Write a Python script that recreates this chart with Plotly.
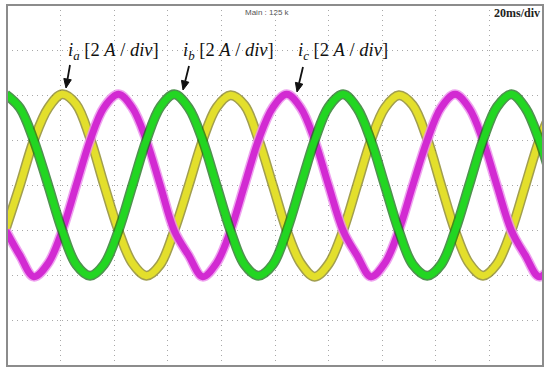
import math
import plotly.graph_objects as go

# Sample times (divisions, 20 ms/div)
T_DIV = [-0.02, 0.24, 0.50, 0.77, 1.03, 1.29, 1.55, 1.81, 2.08, 2.34,
         2.60, 2.86, 3.12, 3.39, 3.65, 3.91, 4.17, 4.43, 4.69, 4.96,
         5.22, 5.48, 5.74, 6.00, 6.27, 6.53, 6.79, 7.05, 7.31, 7.57,
         7.84, 8.10, 8.36, 8.62, 8.88, 9.14, 9.41, 9.67, 9.93, 10.19]

# Phase currents (divisions, 2 A/div)
I_A = [-0.95, 0.0, 1.0, 1.72, 2.02, 1.8, 1.05, 0.02, -1.0, -1.72,
       -2.0, -1.75, -1.0, 0.0, 1.0, 1.73, 2.0, 1.78, 1.03, 0.0,
       -1.0, -1.72, -2.02, -1.74, -1.0, 0.0, 1.0, 1.72, 2.0, 1.78,
       1.03, 0.0, -1.0, -1.72, -2.0, -1.74, -1.0, 0.0, 1.0, 1.73]

I_B = [2.02, 1.72, 1.0, 0.0, -1.0, -1.75, -2.0, -1.75, -1.0, 0.0,
       1.0, 1.74, 2.02, 1.72, 1.0, 0.0, -1.0, -1.75, -2.0, -1.75,
       -1.0, 0.0, 1.0, 1.74, 2.02, 1.72, 1.0, 0.0, -1.0, -1.75,
       -2.0, -1.75, -1.0, 0.0, 1.0, 1.74, 2.02, 1.72, 1.0, 0.0]

I_C = [-1.0, -1.55, -2.02, -1.72, -1.0, 0.0, 1.0, 1.73, 2.02, 1.72,
       1.0, 0.0, -1.0, -1.55, -2.02, -1.72, -1.0, 0.0, 1.0, 1.73,
       2.02, 1.72, 1.0, 0.0, -1.0, -1.55, -2.02, -1.72, -1.0, 0.0,
       1.0, 1.73, 2.02, 1.72, 1.0, 0.0, -1.0, -1.55, -2.02, -1.72]

LABELS = ["<i>i<sub>a</sub></i> [2 <i>A</i> / <i>div</i>]",
          "<i>i<sub>b</sub></i> [2 <i>A</i> / <i>div</i>]",
          "<i>i<sub>c</sub></i> [2 <i>A</i> / <i>div</i>]"]

W, H = 550, 374
L, R, T, B = 7, 543, 5, 366


def px(x):
    return (x - L) / (R - L)


def py(y):
    return (B - y) / (B - T)


fig = go.Figure()

series = [
    (I_A, "#e3df2c", "rgba(130,125,20,0.75)"),
    (I_C, "#d22ad2", "rgba(235,140,235,0.8)"),
    (I_B, "#22d622", "rgba(20,110,20,0.75)"),
]
for ys, col, edge in series:
    fig.add_trace(go.Scatter(x=T_DIV, y=ys, mode="lines",
                             line=dict(color=edge, width=10, shape="spline", smoothing=1.0),
                             hoverinfo="skip", showlegend=False))
    fig.add_trace(go.Scatter(x=T_DIV, y=ys, mode="lines",
                             line=dict(color=col, width=7, shape="spline", smoothing=1.0),
                             hoverinfo="skip", showlegend=False))

grid = dict(showgrid=True, gridcolor="#a8a8a8", gridwidth=1, griddash="1px,4px",
            zeroline=False, showticklabels=False, ticks="", showline=False)
fig.update_xaxes(range=[0, 10], dtick=1, tick0=0, **grid)
fig.update_yaxes(range=[-4, 4], dtick=1, tick0=0, **grid)

fig.add_shape(type="rect", xref="paper", yref="paper", x0=0, x1=1, y0=0, y1=1,
              line=dict(color="#8c8c8c", width=2), layer="above")

# arrows drawn as shapes (tail -> tip)
for (tx, ty, hx, hy) in [(70, 65, 66, 88), (189, 66, 183, 90), (303, 67, 297, 92)]:
    dx, dy = hx - tx, hy - ty
    n = math.hypot(dx, dy)
    ux, uy = dx / n, dy / n
    bx, by = hx - 9 * ux, hy - 9 * uy
    pxp, pyp = -uy, ux
    fig.add_shape(type="line", xref="paper", yref="paper",
                  x0=px(tx), y0=py(ty), x1=px(bx), y1=py(by),
                  line=dict(color="#111", width=1.8), layer="above")
    p1 = (bx + 3.8 * pxp, by + 3.8 * pyp)
    p2 = (bx - 3.8 * pxp, by - 3.8 * pyp)
    path = (f"M {px(hx)} {py(hy)} L {px(p1[0])} {py(p1[1])} "
            f"L {px(p2[0])} {py(p2[1])} Z")
    fig.add_shape(type="path", xref="paper", yref="paper", path=path,
                  fillcolor="#111", line=dict(color="#111", width=1), layer="above")

annots = []
for txt, x in zip(LABELS, [66, 181, 296]):
    annots.append(dict(text=txt, xref="paper", yref="paper", x=px(x), y=py(51),
                       xanchor="left", yanchor="middle", showarrow=False,
                       font=dict(family="Liberation Serif", size=18.5, color="#111")))
annots.append(dict(text="Main : 125 k", xref="paper", yref="paper", x=px(267), y=py(12),
                   xanchor="center", yanchor="middle", showarrow=False,
                   font=dict(family="Liberation Sans", size=8, color="#555")))
annots.append(dict(text="<b>20ms/div</b>", xref="paper", yref="paper", x=px(542), y=py(13),
                   xanchor="right", yanchor="middle", showarrow=False,
                   font=dict(family="Liberation Serif", size=12, color="#222")))

fig.update_layout(width=W, height=H, margin=dict(l=L, r=W - R, t=T, b=H - B),
                  paper_bgcolor="white", plot_bgcolor="white",
                  annotations=annots, showlegend=False)

fig.write_html("out.html",
               config={"displayModeBar": False, "staticPlot": True},
               post_script="document.body.style.margin='0';document.body.style.overflow='hidden';")
